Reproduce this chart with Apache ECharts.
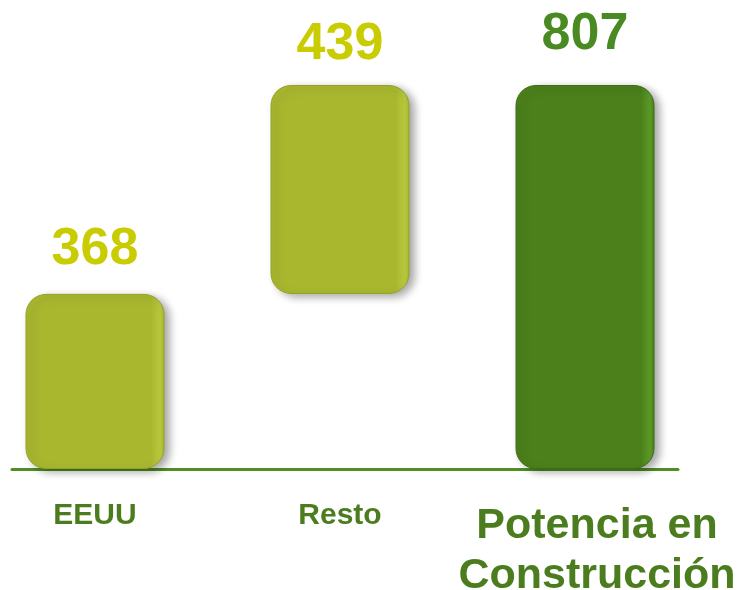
<!DOCTYPE html>
<html>
<head>
<meta charset="utf-8">
<script src="https://cdn.jsdelivr.net/npm/echarts@6/dist/echarts.min.js"></script>
<style>
html,body{margin:0;padding:0;background:#fff;}
#chart{width:738px;height:590px;}
</style>
</head>
<body>
<div id="chart"></div>
<script>
// datos del grafico (cascada)
const categories = ['EEUU', 'Resto', 'Potencia en\nConstrucción'];
const values = [368, 439, 807];
const baseValues = [0, 368, 0];   // parte invisible que eleva "Resto"
const barColors = ['#a9b72f', '#a9b72f', '#4b801b'];
const labelColors = ['#c9cc00', '#c9cc00', '#4a8a22'];
const labelDistance = [18, 14, 24];
const axisFont = [30, 30, 43];

const chart = echarts.init(document.getElementById('chart'));

const option = {
    animation: false,
    grid: [
        { left: 95, right: 153, top: 85, bottom: 121, outerBoundsMode: 'none' },
        { left: 12, right: 60, top: 85, bottom: 121, outerBoundsMode: 'none' }
    ],
    xAxis: [
        {
            type: 'category',
            gridIndex: 0,
            data: categories,
            boundaryGap: false,
            axisLine: { show: false },
            axisTick: { show: false },
            axisLabel: {
                margin: 32,
                interval: 0,
                formatter: function (v, i) {
                    return v.split('\n').map(s => '{c' + i + '|' + s + '}').join('\n');
                },
                rich: {
                    c0: { fontSize: axisFont[0], fontWeight: 'bold', color: '#4b7d1f', fontFamily: 'Liberation Sans' },
                    c1: { fontSize: axisFont[1], fontWeight: 'bold', color: '#4b7d1f', fontFamily: 'Liberation Sans' },
                    c2: { fontSize: axisFont[2], fontWeight: 'bold', color: '#4b7d1f', fontFamily: 'Liberation Sans', lineHeight: 50, padding: [0, 0, 0, 24] }
                }
            }
        },
        {
            type: 'value',
            gridIndex: 1,
            axisLine: { show: true, onZero: false, lineStyle: { color: '#4f8f22', width: 3 } },
            axisTick: { show: false },
            axisLabel: { show: false },
            splitLine: { show: false }
        }
    ],
    yAxis: [
        { type: 'value', gridIndex: 0, min: 0, max: 807, show: false },
        { type: 'value', gridIndex: 1, show: false }
    ],
    series: [
        {
            type: 'bar',
            stack: 'total',
            barWidth: 139,
            silent: true,
            itemStyle: { color: 'transparent' },
            data: baseValues
        },
        {
            type: 'bar',
            stack: 'total',
            barWidth: 139,
            z: 3,
            data: values.map((v, i) => ({
                value: v,
                itemStyle: {
                    color: {
                        type: 'linear', x: 0, y: 0, x2: 1, y2: 0,
                        colorStops: [
                            { offset: 0, color: barColors[i] },
                            { offset: 0.9, color: barColors[i] },
                            { offset: 0.97, color: i === 2 ? '#5c9a28' : '#b8c83c' },
                            { offset: 1, color: barColors[i] }
                        ]
                    },
                    borderRadius: 20,
                    borderColor: i === 2 ? '#3f6c15' : '#93a226',
                    borderWidth: 1,
                    shadowColor: 'rgba(0,0,0,0.35)',
                    shadowBlur: 8,
                    shadowOffsetX: 5,
                    shadowOffsetY: 3
                },
                label: {
                    show: true,
                    position: 'top',
                    distance: labelDistance[i],
                    color: labelColors[i],
                    fontSize: 52,
                    fontWeight: 'bold',
                    fontFamily: 'Liberation Sans'
                }
            }))
        }
    ]
};

chart.setOption(option);
</script>
</body>
</html>
